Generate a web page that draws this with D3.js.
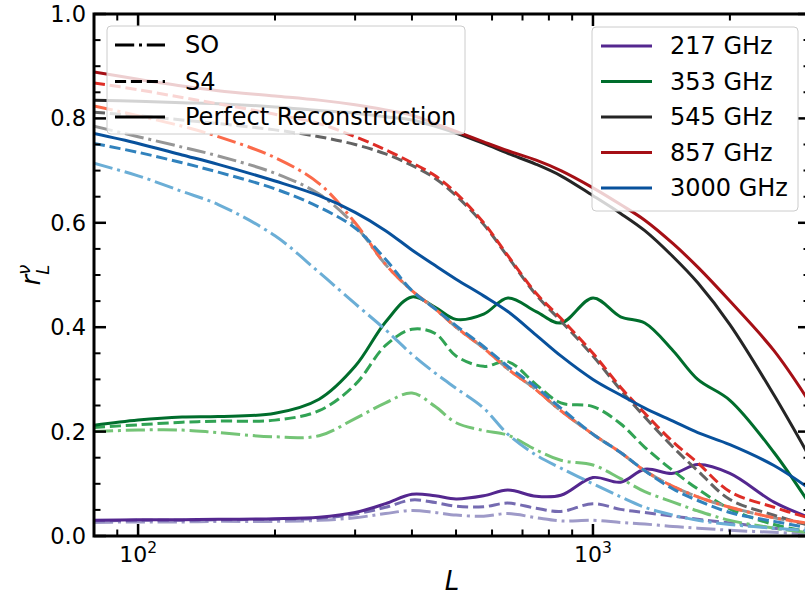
<!DOCTYPE html>
<html><head><meta charset="utf-8">
<script src="https://cdn.jsdelivr.net/npm/d3@7"></script>
<style>body{margin:0;background:#fff}svg{display:block}text{font-family:"DejaVu Sans",sans-serif}</style>
</head><body><svg id="c" width="805" height="598"></svg>
<script>
// ---- data ----
const ells = [80,100,125,150,200,250,300,350,400,450,500,575,650,750,850,1000,1150,1300,1500,1700,2000,2500,3000];
const frequencies = ["217 GHz","353 GHz","545 GHz","857 GHz","3000 GHz"];
const experiments = ["SO","S4","Perfect Reconstruction"];
// Perfect reconstruction (solid)
const r217_perfect = [.030,.031,.031,.032,.033,.036,.045,.062,.080,.077,.071,.077,.088,.076,.078,.112,.103,.128,.120,.137,.120,.065,.035];
const r353_perfect = [.212,.222,.228,.229,.235,.262,.325,.410,.458,.438,.415,.425,.456,.430,.408,.456,.420,.408,.355,.300,.260,.160,.060];
const r545_perfect = [.835,.833,.830,.828,.822,.815,.810,.803,.797,.785,.772,.752,.733,.712,.690,.652,.618,.585,.535,.485,.405,.270,.150];
const r857_perfect = [.889,.875,.862,.853,.843,.835,.826,.816,.806,.790,.775,.755,.738,.720,.700,.667,.635,.605,.560,.515,.450,.355,.255];
const r3000_perfect = [.771,.752,.730,.712,.680,.652,.620,.585,.548,.518,.492,.460,.430,.385,.345,.300,.270,.245,.220,.198,.175,.135,.090];
// S4 (dashed)
const r217_s4 = [.029,.030,.030,.031,.032,.034,.042,.055,.069,.064,.057,.056,.063,.053,.047,.062,.051,.045,.038,.032,.025,.015,.008];
const r353_s4 = [.208,.213,.218,.220,.222,.240,.290,.365,.396,.388,.345,.325,.334,.290,.255,.248,.215,.170,.125,.090,.052,.022,.008];
const r545_s4 = [.812,.805,.797,.790,.778,.765,.750,.732,.710,.685,.652,.597,.535,.462,.412,.345,.280,.228,.170,.125,.070,.040,.020];
const r857_s4 = [.868,.855,.840,.828,.808,.790,.765,.740,.715,.690,.657,.600,.537,.465,.417,.350,.285,.235,.180,.140,.085,.055,.034];
const r3000_s4 = [.752,.735,.715,.697,.665,.630,.590,.530,.470,.435,.403,.363,.325,.285,.245,.195,.160,.125,.090,.068,.045,.028,.015];
// SO (dash-dot)
const r217_so = [.026,.027,.027,.028,.028,.030,.035,.043,.049,.045,.040,.038,.043,.035,.029,.030,.026,.023,.018,.015,.011,.007,.004];
const r353_so = [.200,.203,.203,.198,.190,.192,.225,.255,.274,.248,.217,.202,.193,.165,.145,.136,.110,.085,.065,.048,.030,.015,.006];
const r545_so = [.785,.765,.745,.728,.695,.655,.595,.520,.470,.435,.400,.360,.320,.280,.240,.195,.160,.125,.095,.075,.055,.035,.022];
const r857_so = [.824,.805,.785,.765,.725,.675,.600,.520,.470,.435,.400,.360,.320,.280,.240,.195,.160,.125,.095,.075,.055,.035,.024];
const r3000_so = [.714,.690,.660,.635,.575,.505,.445,.395,.348,.312,.283,.245,.195,.155,.130,.100,.075,.055,.040,.030,.022,.015,.010];
const yTicks = [0,0.2,0.4,0.6,0.8,1.0];
const xMajor = [100,1000];

const solidColors = ["#54278f","#006d2c","#252525","#a50f15","#08519c"];
const dashColors  = ["#756bb1","#31a354","#636363","#de2d26","#3182bd"];
const dotColors   = ["#9e9ac8","#74c476","#969696","#fb6a4a","#6baed6"];

const perfect = [r217_perfect,r353_perfect,r545_perfect,r857_perfect,r3000_perfect];
const s4 = [r217_s4,r353_s4,r545_s4,r857_s4,r3000_s4];
const so = [r217_so,r353_so,r545_so,r857_so,r3000_so];

// ---- layout ----
const svg = d3.select("#c");
const X0=94, X1=810, Y0=536, Y1=14;
const x = d3.scaleLog().domain([80,3000]).range([X0,X1]);
const y = d3.scaleLinear().domain([0,1]).range([Y0,Y1]);

svg.append("defs").append("clipPath").attr("id","clip")
  .append("rect").attr("x",X0).attr("y",Y1).attr("width",X1-X0).attr("height",Y0-Y1);

const line = d3.line().x(d=>x(d[0])).y(d=>y(d[1])).curve(d3.curveCatmullRom.alpha(0.5));
const lw = 3;
const DASH = "11.1,4.8", DASHDOT = "19.2,4.8,3,4.8";
const g = svg.append("g").attr("clip-path","url(#clip)");
function draw(arr, color, dash){
  g.append("path").datum(ells.map((l,i)=>[l,arr[i]]))
   .attr("d",line).attr("fill","none").attr("stroke",color)
   .attr("stroke-width",lw).attr("stroke-dasharray",dash||null);
}
for(let i=0;i<5;i++){
  draw(so[i], dotColors[i], DASHDOT);
  draw(s4[i], dashColors[i], DASH);
  draw(perfect[i], solidColors[i], null);
}

// ---- axes ----
const ax = svg.append("g");
const minorX = [];
[10,100,1000].forEach(dec=>{for(let k=2;k<=9;k++){const v=k*dec; if(v>=80&&v<=3000&&v!==1000&&v!==100) minorX.push(v);}});
function tick(x1,y1,x2,y2,w){ax.append("line").attr("x1",x1).attr("y1",y1).attr("x2",x2).attr("y2",y2).attr("stroke","#000").attr("stroke-width",w);}
minorX.forEach(v=>{tick(x(v),Y0,x(v),Y0-6.5,2);tick(x(v),Y1,x(v),Y1+6.5,2);});
xMajor.forEach(v=>{tick(x(v),Y0,x(v),Y0-12,2.5);tick(x(v),Y1,x(v),Y1+12,2.5);});
d3.range(0,1.0001,0.05).forEach(v=>{
  const major = Math.abs(v*5-Math.round(v*5))<1e-6;
  const L = major?12:6.5, w = major?2.5:2;
  tick(X0,y(v),X0+L,y(v),w); tick(X1,y(v),X1-L,y(v),w);
});
ax.append("rect").attr("x",X0).attr("y",Y1).attr("width",X1-X0).attr("height",Y0-Y1)
  .attr("fill","none").attr("stroke","#000").attr("stroke-width",3);

yTicks.forEach(v=>{
  svg.append("text").attr("x",86).attr("y",y(v)).attr("text-anchor","end")
    .attr("dominant-baseline","central").attr("font-size",22.5).text(v.toFixed(1));
});
xMajor.forEach(v=>{
  const t = svg.append("text").attr("x",x(v)).attr("y",562).attr("text-anchor","middle").attr("font-size",22);
  t.append("tspan").text("10");
  t.append("tspan").attr("font-size",15.5).attr("dy",-9).text(String(Math.round(Math.log10(v))));
});
svg.append("text").attr("x",452).attr("y",590).attr("text-anchor","middle")
  .attr("font-size",26).attr("font-style","italic").text("L");
const yl = svg.append("text").attr("transform","translate(40,275) rotate(-90)").attr("text-anchor","middle").attr("font-size",26);
yl.append("tspan").attr("font-style","italic").text("r");
yl.append("tspan").attr("font-size",18).attr("dy",-10).attr("font-style","italic").text("ν");
yl.append("tspan").attr("font-size",18).attr("dx",-10).attr("dy",19).attr("font-style","italic").text("L");

// ---- legends ----
function legend(bx,by,bw,bh,items,hx0,hx1,tx){
  const lg = svg.append("g");
  lg.append("rect").attr("x",bx).attr("y",by).attr("width",bw).attr("height",bh).attr("rx",4)
    .attr("fill","#fff").attr("fill-opacity",0.8).attr("stroke","#cccccc").attr("stroke-width",1);
  items.forEach(it=>{
    lg.append("line").attr("x1",hx0).attr("x2",hx1).attr("y1",it.y).attr("y2",it.y)
      .attr("stroke",it.c).attr("stroke-width",3).attr("stroke-dasharray",it.d||null);
    lg.append("text").attr("x",tx).attr("y",it.y).attr("dominant-baseline","central").attr("font-size",24).text(it.t);
  });
}
legend(107,26,358,108,[
  {t:experiments[0],c:"#000",d:DASHDOT,y:45},
  {t:experiments[1],c:"#000",d:DASH,y:81.5},
  {t:experiments[2],c:"#000",d:null,y:117}],115,165,185);
legend(592,27,206,184,frequencies.map((f,i)=>({t:f,c:solidColors[i],d:null,y:46+35.5*i})),601,652,670);
</script></body></html>
